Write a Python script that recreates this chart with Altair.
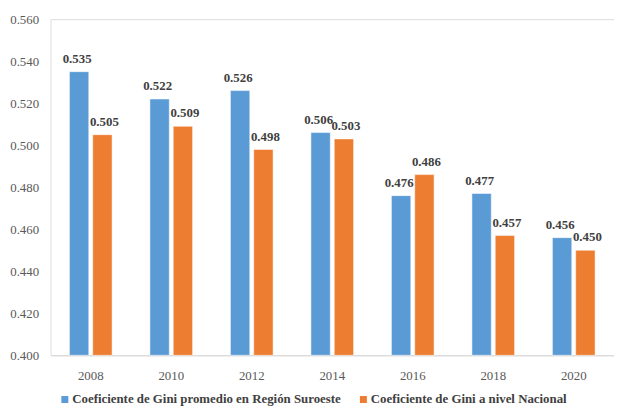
import altair as alt
import pandas as pd

years = ["2008", "2010", "2012", "2014", "2016", "2018", "2020"]
region = [0.535, 0.522, 0.526, 0.506, 0.476, 0.477, 0.456]
national = [0.505, 0.509, 0.498, 0.503, 0.486, 0.457, 0.450]
series = ["Coeficiente de Gini promedio en Región Suroeste",
          "Coeficiente de Gini a nivel Nacional"]
colors = ["#5B9BD5", "#ED7D31"]

rows = []
for y, r, n in zip(years, region, national):
    rows.append({"year": y, "series": series[0], "value": r})
    rows.append({"year": y, "series": series[1], "value": n})
df = pd.DataFrame(rows)

FONT = "'Liberation Serif', 'Times New Roman', serif"

x = alt.X("year:N", sort=years, title=None,
          scale=alt.Scale(paddingInner=0.47, paddingOuter=0.235),
          axis=alt.Axis(labelAngle=0, labelFont=FONT, labelFontSize=13,
                        labelColor="#595959", ticks=False, domainColor="#d9d9d9",
                        labelPadding=15))
xo = alt.XOffset("series:N", sort=series,
                 scale=alt.Scale(paddingInner=0.17, paddingOuter=0))
y = alt.Y("value:Q", title=None,
          scale=alt.Scale(domain=[0.4, 0.56], zero=False, nice=False),
          axis=alt.Axis(values=[0.40, 0.42, 0.44, 0.46, 0.48, 0.50, 0.52, 0.54, 0.56],
                        format=".3f", labelFont=FONT, labelFontSize=13,
                        labelColor="#595959", ticks=False, domain=False, grid=False,
                        labelPadding=12))
color = alt.Color("series:N", sort=series,
                  scale=alt.Scale(domain=series, range=colors),
                  legend=alt.Legend(title=None, orient="none", legendX=8, legendY=378,
                                    direction="horizontal", columns=2, columnPadding=16,
                                    symbolType="square", symbolSize=50, symbolStrokeWidth=0,
                                    labelFont=FONT, labelFontSize=13, labelFontWeight="bold",
                                    labelColor="#404040", labelLimit=400, symbolOffset=0,
                                    labelOffset=1))

base = alt.Chart(df)
bars = base.mark_bar(stroke="white", strokeWidth=0.5).encode(
    x=x, xOffset=xo, y=y, y2=alt.datum(0.4), color=color)


def label_layer(name, dx):
    return base.transform_filter(alt.datum.series == name).mark_text(
        dy=-13, dx=dx, font=FONT, fontSize=13, fontWeight="bold", color="#404040"
    ).encode(x=x, xOffset=xo, y=y, text=alt.Text("value:Q", format=".3f"))


labels_a = label_layer(series[0], -2)
labels_b = label_layer(series[1], 2)

chart = (bars + labels_a + labels_b).properties(
    width=570, height=340,
    autosize=alt.AutoSizeParams(type="none"),
    padding={"left": 43, "top": 9, "right": 0, "bottom": 49},
).configure_view(stroke=None).configure(background="white")

chart.save("out.html", embed_options={"renderer": "svg", "actions": False})
